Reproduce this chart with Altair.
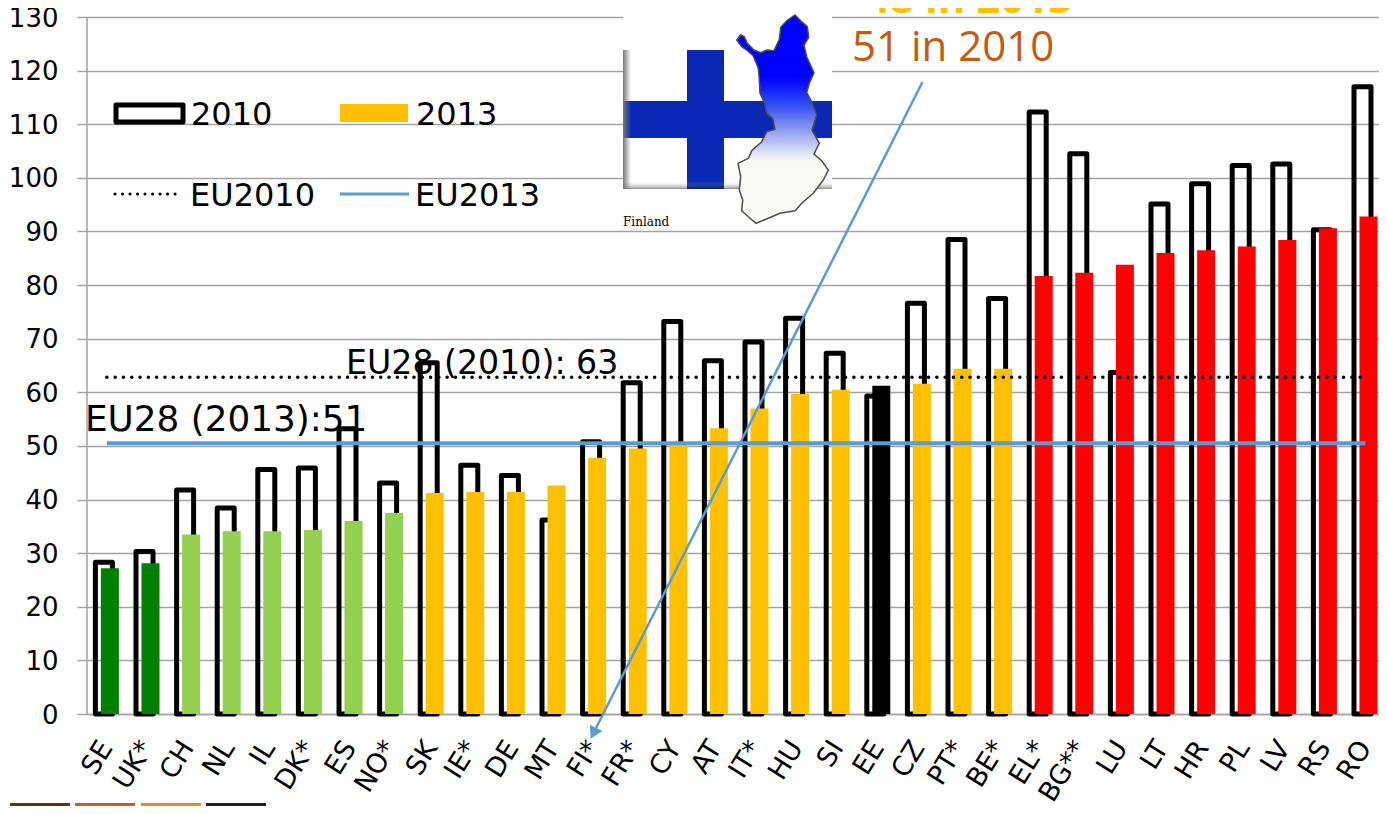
import altair as alt
import pandas as pd

countries = ["SE","UK*","CH","NL","IL","DK*","ES","NO*","SK","IE*","DE","MT","FI*","FR*","CY","AT","IT*","HU","SI","EE","CZ","PT*","BE*","EL*","BG**","LU","LT","HR","PL","LV","RS","RO"]
v2010 = [28.3,30.3,41.8,38.4,45.6,45.9,53.2,43.1,65.5,46.4,44.5,36.2,50.8,61.8,73.2,65.9,69.4,73.8,67.3,59.3,76.6,88.5,77.5,112.3,104.5,63.7,95.1,98.9,102.3,102.6,90.3,117.0]
v2013 = [27.2,28.1,33.5,34.1,34.1,34.3,36.0,37.5,41.2,41.4,41.4,42.6,47.8,49.5,50.3,53.3,57.0,59.7,60.5,61.2,61.6,64.4,64.4,81.7,82.3,83.8,86.0,86.5,87.2,88.4,90.6,92.8]
groups = ["dark"]*2 + ["light"]*6 + ["mid"]*11 + ["black"] + ["mid"]*3 + ["high"]*9
eu2010 = [62.8]*len(countries)
eu2013 = [50.5]*len(countries)
group_domain = ["dark","light","mid","black","high"]
group_colors = ["#008000","#92D050","#FFC000","#000000","#FF0000"]

df = pd.DataFrame({"c":countries,"a":v2010,"b":v2013,"g":groups,"e10":eu2010,"e13":eu2013})

FONT = "DejaVu Sans"
GRID = "#A3A3A3"
BLUE = "#5B9BD5"
X0, Y0 = 86.5, 17.0
STEP = 40.6
PW, PH = 1292.5, 697.0

def px(x): return x - X0
def py(y): return y - Y0

xs = alt.Scale(domain=countries, range=[0, STEP*len(countries)], paddingInner=0, paddingOuter=0)
ys = alt.Scale(domain=[0,130], nice=False, zero=True)

xenc = alt.X("c:N", sort=countries, scale=xs, title=None,
             axis=alt.Axis(labelAngle=-58, labelAlign="right", labelBaseline="middle",
                           labelFont=FONT, labelFontSize=27, labelColor="#000000", labelPadding=29,
                           ticks=False, grid=False, domainColor=GRID, domainWidth=1.5, labelOverlap=False))
yenc = alt.Y("a:Q", scale=ys, title=None,
             axis=alt.Axis(values=list(range(0,131,10)), labelFont=FONT, labelFontSize=26, labelColor="#000000",
                           labelPadding=19, labelOffset=1, tickSize=9.5, tickColor=GRID, tickWidth=1.5, grid=True, gridColor=GRID,
                           gridWidth=1.5, domainColor=GRID, domainWidth=1.5))

base = alt.Chart(df)

def text(t, x, y, size, color="#000000", font=FONT, weight="normal"):
    return alt.Chart(pd.DataFrame({"t":[t]})).mark_text(align="left", baseline="alphabetic", font=font, fontSize=size,
        color=color, fontWeight=weight).encode(text="t:N", x=alt.value(px(x)), y=alt.value(py(y)))

def rect(x1, y1, x2, y2, fill, **kw):
    return alt.Chart(pd.DataFrame({"k":[0]})).mark_rect(fill=fill, **kw).encode(
        x=alt.value(px(x1)), x2=alt.value(px(x2)), y=alt.value(py(y1)), y2=alt.value(py(y2)))

def seg(x1, y1, x2, y2, color, width, **kw):
    return alt.Chart(pd.DataFrame({"k":[0]})).mark_rule(color=color, strokeWidth=width, **kw).encode(
        x=alt.value(px(x1)), x2=alt.value(px(x2)), y=alt.value(py(y1)), y2=alt.value(py(y2)))

def grad(x1, y1, x2, y2, stops):
    return alt.LinearGradient(gradient="linear", x1=x1, y1=y1, x2=x2, y2=y2,
                              stops=[alt.GradientStop(offset=o, color=c) for o, c in stops])

texts_under = [text("EU28 (2010): 63", 346, 374, 33.2), text("EU28 (2013):51", 85, 431, 35.8)]

hollow = base.mark_bar(size=17, xOffset=-2.9, fill="transparent", stroke="#000000", strokeWidth=5, strokeJoin="round").encode(x=xenc, y=yenc)
solid = base.mark_bar(size=18, xOffset=3.1).encode(
    x=alt.X("c:N", sort=countries, scale=xs), y=alt.Y("b:Q", scale=ys),
    color=alt.Color("g:N", scale=alt.Scale(domain=group_domain, range=group_colors), legend=None))
line10 = base.mark_line(color="#000000", strokeWidth=3.5, strokeDash=[0.1,8.2], strokeCap="round").encode(
    x=alt.X("c:N", sort=countries, scale=xs), y=alt.Y("e10:Q", scale=ys))
line13 = base.mark_line(color=BLUE, strokeWidth=4).encode(
    x=alt.X("c:N", sort=countries, scale=xs), y=alt.Y("e13:Q", scale=ys))

# Legend drawn by hand, as in the reference
legend = [
    rect(116, 105, 183, 122, "transparent", stroke="#000000", strokeWidth=5, strokeJoin="round"),
    text("2010", 191, 125, 32),
    rect(340, 104, 408, 122, "#FFC000"),
    text("2013", 416, 125, 32),
    seg(115, 194, 178, 194, "#000000", 3, strokeDash=[0.1,7.4], strokeCap="round"),
    text("EU2010", 190, 206, 32),
    seg(340, 194, 409, 194, BLUE, 3),
    text("EU2013", 415, 206, 32),
]

# Flag and map picture
zoom_outline = [(380,120),(392,104),(403,110),(412,130),(432,150),(452,158),(470,150),(492,152),(508,118),(512,82),(530,62),(555,45),(572,62),(592,80),(596,112),(582,135),(590,170),(612,218),(598,250),(590,278),(605,305),(620,345),(606,390),(628,430),(612,462),(635,482),(655,510),(640,540),(610,580),(575,610),(555,632),(510,640),(475,655),(438,670),(415,650),(395,632),(398,600),(388,570),(392,530),(384,490),(415,475),(425,452),(455,425),(470,395),(495,388),(488,355),(470,340),(462,305),(450,280),(448,240),(445,205),(430,168),(410,150),(395,140)]
pts = [(610+x/3, y/3) for x, y in zoom_outline]
cx, cy = 780.0, 120.0
finland_path = "M" + " L".join(f"{x-cx:.1f},{y-cy:.1f}" for x, y in pts) + " Z"

flag = [
    rect(623, 12, 832, 229, "#FFFFFF"),
    rect(623, 50, 832, 189, "#FFFFFF"),
    rect(687, 50, 724, 189, "#0A28B4"),
    rect(623, 101, 832, 138, "#0A28B4"),
    rect(623, 181, 832, 189, grad(0,0,0,1,[(0,"#FFFFFF00"),(1,"#00000070")])),
    rect(623, 50, 631, 189, grad(0,0,1,0,[(0,"#777777"),(1,"#77777700")])),
    alt.Chart(pd.DataFrame({"k":[0]})).mark_point(
        shape=finland_path, size=4, filled=True, opacity=1, strokeOpacity=1, fillOpacity=1,
        fill=grad(0,0,0,1,[(0,"#0000FF"),(0.3,"#0000FF"),(0.42,"#2A48F4"),(0.55,"#8C9AF0"),(0.7,"#F8F8F6"),(1,"#FAFAF5")]),
        stroke="#4D4D4D", strokeWidth=1.5).encode(x=alt.value(px(cx)), y=alt.value(py(cy))),
    text("Finland", 623, 226, 12, font="DejaVu Serif"),
]

# Call-out
callout = [
    text("48 in 2013", 866, 13, 42, color="#FFC000", font="Open Sans", weight="bold"),
    text("51 in 2010", 852, 61, 42, color="#C55A11", font="Open Sans"),
    seg(922.5, 82, 593.4, 733.3, BLUE, 2.5),
    alt.Chart(pd.DataFrame({"k":[0]})).mark_point(shape="triangle-up", angle=206.6, size=196, filled=True,
        color=BLUE, opacity=1).encode(x=alt.value(px(593.4)), y=alt.value(py(733.3))),
]

strip = [rect(10,803,70,806,"#5F3517"), rect(75,803,135,806,"#C0622A"), rect(141,803,201,806,"#D69030"), rect(206,803,266,806,"#222222")]

chart = alt.layer(*texts_under, hollow, solid, line10, line13, *legend, *flag, *callout, *strip).properties(
    width=PW, height=PH,
    autosize=alt.AutoSizeParams(type="none"),
    padding={"left":78.5,"top":9,"right":0,"bottom":92},
    background="#FFFFFF",
).configure_view(stroke=None)

chart.save("out.html", embed_options={"renderer": "svg", "actions": False})
